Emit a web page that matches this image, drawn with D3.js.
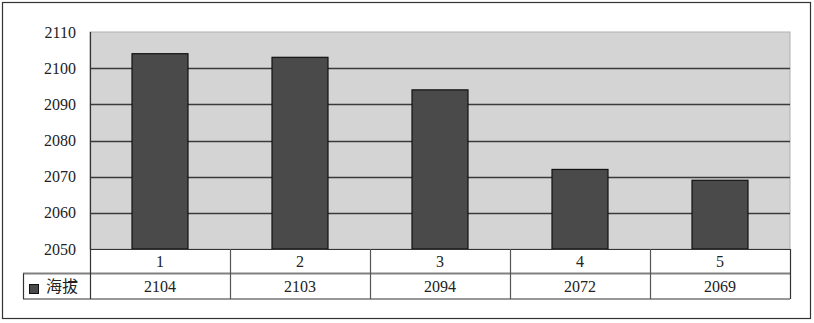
<!DOCTYPE html>
<html>
<head>
<meta charset="utf-8">
<script src="https://cdn.jsdelivr.net/npm/d3@7"></script>
<style>
  body { margin: 0; background: #fff; }
  svg { display: block; }
</style>
</head>
<body>
<div id="chart"></div>
<script>
const categories = ['1', '2', '3', '4', '5'];
const values = [2104, 2103, 2094, 2072, 2069];
const seriesName = '海拔';
const yTicks = [2050, 2060, 2070, 2080, 2090, 2100, 2110];

const width = 814, height = 323;
const plot = { left: 90, right: 790, top: 32, bottom: 249 };
const row1 = 273.5, row2 = 299;
const legendLeft = 23;

const svg = d3.select('#chart').append('svg')
  .attr('width', width)
  .attr('height', height);

// outer frame
svg.append('rect')
  .attr('x', 2.5).attr('y', 2.5)
  .attr('width', 808).attr('height', 316)
  .attr('fill', '#fff')
  .attr('stroke', '#333')
  .attr('stroke-width', 1.2);

const x = d3.scaleBand()
  .domain(categories)
  .range([plot.left, plot.right])
  .paddingInner(0.6)
  .paddingOuter(0.3);

const y = d3.scaleLinear()
  .domain([2050, 2110])
  .range([plot.bottom, plot.top]);

// plot background
svg.append('rect')
  .attr('x', plot.left).attr('y', plot.top)
  .attr('width', plot.right - plot.left)
  .attr('height', plot.bottom - plot.top)
  .attr('fill', '#d4d4d4')
  .attr('stroke', '#b0b0b0')
  .attr('stroke-width', 1);

// gridlines
svg.append('g')
  .selectAll('line')
  .data(yTicks.filter(d => d > 2050 && d < 2110))
  .join('line')
  .attr('x1', plot.left).attr('x2', plot.right)
  .attr('y1', d => Math.round(y(d)) + 0.5)
  .attr('y2', d => Math.round(y(d)) + 0.5)
  .attr('stroke', '#3a3a3a')
  .attr('stroke-width', 1.3);

// bars
svg.append('g')
  .selectAll('rect')
  .data(values)
  .join('rect')
  .attr('x', (d, i) => x(categories[i]))
  .attr('y', d => y(d))
  .attr('width', x.bandwidth())
  .attr('height', d => y(2050) - y(d))
  .attr('fill', '#4a4a4a')
  .attr('stroke', '#111')
  .attr('stroke-width', 1.2);

// y axis labels
const yAxis = d3.axisLeft(y).tickValues(yTicks).tickSize(0).tickPadding(14).tickFormat(d3.format('d'));
svg.append('g')
  .attr('transform', `translate(${plot.left},0)`)
  .call(yAxis)
  .call(g => g.select('.domain').remove())
  .call(g => g.selectAll('text')
    .attr('font-family', '"Liberation Serif", "DejaVu Serif", serif')
    .attr('font-size', 16)
    .attr('fill', '#222'));

// data table
const table = svg.append('g')
  .attr('fill', 'none')
  .attr('stroke', '#333')
  .attr('stroke-width', 1.2);

table.append('line')
  .attr('x1', plot.left).attr('x2', plot.right)
  .attr('y1', plot.bottom + 0.5).attr('y2', plot.bottom + 0.5);
table.append('line')
  .attr('x1', legendLeft).attr('x2', plot.right)
  .attr('y1', row1).attr('y2', row1)
  .attr('stroke', '#808080')
  .attr('stroke-width', 1.8);
table.append('line')
  .attr('x1', legendLeft).attr('x2', plot.right)
  .attr('y1', row2).attr('y2', row2);
table.append('line')
  .attr('x1', plot.left + 0.5).attr('x2', plot.left + 0.5)
  .attr('y1', plot.top).attr('y2', row2);
table.append('line')
  .attr('x1', legendLeft + 0.5).attr('x2', legendLeft + 0.5)
  .attr('y1', row1).attr('y2', row2);

const step = x.step();
const bounds = categories.map(c => x(c) + x.bandwidth() / 2 + step / 2);
table.selectAll('line.sep')
  .data(bounds)
  .join('line')
  .attr('class', 'sep')
  .attr('x1', d => Math.round(d) + 0.5).attr('x2', d => Math.round(d) + 0.5)
  .attr('y1', plot.bottom).attr('y2', row2)
  .attr('stroke', (d, i) => i === bounds.length - 1 ? '#333' : '#555');

const textFont = '"Liberation Serif", "DejaVu Serif", serif';

svg.append('g')
  .selectAll('text')
  .data(categories)
  .join('text')
  .attr('x', d => x(d) + x.bandwidth() / 2)
  .attr('y', (plot.bottom + row1) / 2 + 6)
  .attr('text-anchor', 'middle')
  .attr('font-family', textFont)
  .attr('font-size', 16)
  .attr('fill', '#222')
  .text(d => d);

svg.append('g')
  .selectAll('text')
  .data(values)
  .join('text')
  .attr('x', (d, i) => x(categories[i]) + x.bandwidth() / 2)
  .attr('y', (row1 + row2) / 2 + 6)
  .attr('text-anchor', 'middle')
  .attr('font-family', textFont)
  .attr('font-size', 16)
  .attr('fill', '#222')
  .text(d => d);

// legend key
svg.append('rect')
  .attr('x', 29.5).attr('y', 284.5)
  .attr('width', 9).attr('height', 9)
  .attr('fill', '#4a4a4a')
  .attr('stroke', '#111');

svg.append('text')
  .attr('x', 46)
  .attr('y', (row1 + row2) / 2 + 6)
  .attr('font-family', '"Noto Sans CJK SC", sans-serif')
  .attr('font-size', 16)
  .attr('fill', '#222')
  .text(seriesName);
</script>
</body>
</html>
